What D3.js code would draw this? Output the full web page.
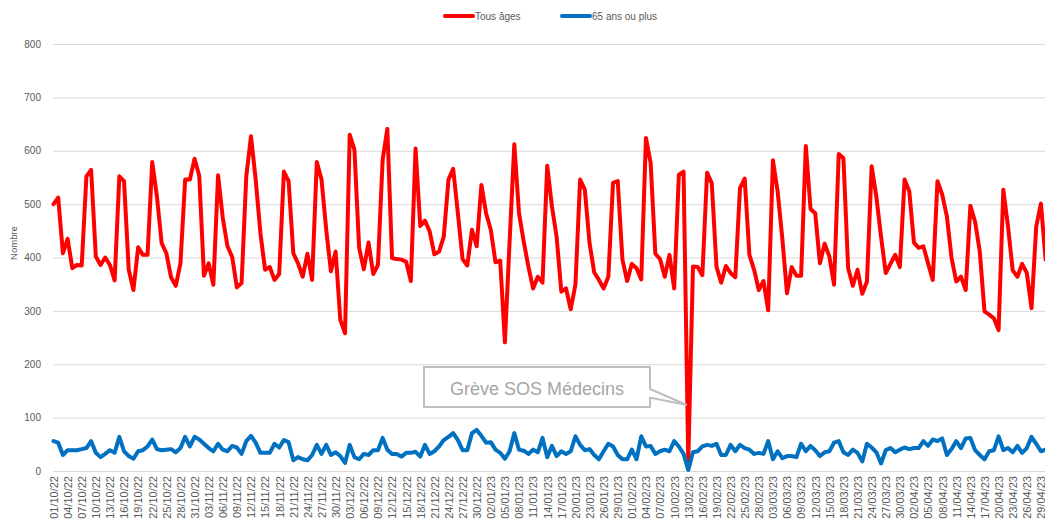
<!DOCTYPE html>
<html>
<head>
<meta charset="utf-8">
<script src="https://cdn.jsdelivr.net/npm/d3@7"></script>
<style>
  body { margin: 0; background: #fff; }
  svg { display: block; font-family: "Liberation Sans", Arial, sans-serif; }
</style>
</head>
<body>
<svg id="chart" width="1045" height="521"></svg>
<script>
// DATA (daily, from 01/10/22)
const startDate = new Date(2022, 9, 1);
const endDate = new Date(2023, 4, 3); // exclusive
const seriesNames = ["Tous âges", "65 ans ou plus"];
const yTicks = [0, 100, 200, 300, 400, 500, 600, 700, 800];

const tousAges = [
  500, 512, 408, 435, 380, 386, 385, 552, 564, 402, 386, 400, 386, 357, 552, 543, 377, 339, 419, 405,
  405, 579, 514, 427, 408, 363, 347, 389, 546, 546, 585, 553, 366, 389, 349, 554, 474, 421, 401, 344,
  352, 552, 627, 546, 446, 377, 382, 358, 369, 561, 543, 408, 389, 364, 407, 358, 579, 546, 452, 374,
  411, 283, 258, 630, 602, 418, 378, 428, 369, 386, 583, 641, 399, 397, 396, 392, 356, 604, 459, 469,
  449, 406, 411, 439, 546, 566, 483, 397, 385, 452, 421, 536, 483, 452, 391, 394, 241, 430, 612, 483,
  430, 383, 342, 364, 353, 572, 496, 439, 336, 342, 303, 349, 546, 527, 427, 372, 358, 342, 364, 540,
  543, 396, 356, 388, 380, 359, 624, 577, 407, 397, 364, 405, 342, 555, 561, 18, 383, 382, 367, 559,
  539, 383, 353, 384, 371, 363, 530, 548, 405, 377, 339, 356, 301, 582, 524, 436, 333, 382, 366, 366,
  609, 491, 483, 389, 426, 402, 349, 594, 586, 380, 347, 377, 332, 355, 571, 514, 439, 371, 388, 405,
  382, 546, 524, 428, 418, 421, 389, 358, 543, 518, 477, 399, 355, 364, 339, 497, 467, 411, 299, 293,
  286, 264, 527, 458, 376, 364, 388, 371, 305, 458, 501, 396
];

const plus65 = [
  56, 53, 30, 39, 39, 39, 41, 43, 56, 34, 26, 32, 39, 34, 64, 37, 28, 23, 37, 39,
  46, 59, 41, 39, 40, 41, 35, 43, 64, 46, 64, 59, 51, 43, 37, 51, 40, 37, 47, 44,
  32, 56, 66, 53, 34, 34, 34, 51, 44, 58, 54, 20, 26, 22, 20, 30, 49, 32, 49, 30,
  35, 28, 15, 49, 26, 22, 32, 30, 39, 39, 62, 40, 32, 32, 27, 34, 34, 36, 27, 49,
  32, 37, 46, 58, 64, 71, 58, 39, 39, 71, 77, 66, 53, 54, 40, 34, 23, 37, 71, 40,
  38, 32, 40, 35, 62, 26, 47, 28, 37, 32, 37, 65, 49, 39, 41, 30, 22, 37, 51, 46,
  30, 22, 22, 40, 22, 65, 46, 47, 32, 37, 40, 37, 56, 46, 32, 2, 35, 37, 46, 49,
  47, 51, 30, 30, 49, 37, 49, 43, 40, 32, 34, 32, 56, 22, 37, 24, 28, 28, 26, 51,
  37, 47, 39, 28, 35, 37, 53, 56, 35, 30, 40, 34, 18, 51, 44, 35, 14, 39, 43, 35,
  40, 44, 41, 43, 43, 56, 47, 59, 56, 61, 30, 41, 56, 43, 61, 62, 39, 30, 22, 37,
  39, 65, 39, 43, 35, 47, 34, 43, 64, 51, 37, 40
];

const annotation = { label: "Grève SOS Médecins", index: 135 };

// CATEGORIES
const dates = d3.timeDay.range(startDate, endDate);
const fmt = d3.timeFormat("%d/%m/%y");
const tickLabels = dates.filter((d, i) => i % 3 === 0).map(fmt);

const svg = d3.select("#chart");
const gray = "#595959";
const gridColor = "#d9d9d9";

const x = d3.scalePoint()
  .domain(dates.map(fmt))
  .range([53.5, 53.5 + (dates.length - 1) * 4.702]);

const y = d3.scaleLinear().domain([0, 800]).range([471, 44]);

// GRIDLINES
svg.append("g")
  .selectAll("line")
  .data(yTicks)
  .enter().append("line")
  .attr("x1", 53).attr("x2", 1045)
  .attr("y1", d => y(d) + 0.5).attr("y2", d => y(d) + 0.5)
  .attr("stroke", gridColor).attr("stroke-width", 1);

// Y AXIS
const yAxis = svg.append("g")
  .attr("transform", "translate(41,0)")
  .call(d3.axisLeft(y).tickValues(yTicks).tickSize(0).tickPadding(0));
yAxis.select(".domain").remove();
yAxis.selectAll("text").attr("fill", gray).style("font-size", "10px");

svg.append("text")
  .attr("transform", "translate(17,243) rotate(-90)")
  .attr("text-anchor", "middle")
  .attr("fill", gray)
  .style("font-size", "9.5px")
  .text("Nombre");

// X AXIS
const xAxis = svg.append("g")
  .attr("transform", "translate(0,471)")
  .call(d3.axisBottom(x).tickValues(tickLabels).tickSize(0).tickPadding(0));
xAxis.select(".domain").remove();
xAxis.selectAll("text")
  .attr("fill", gray)
  .style("font-size", "11px")
  .attr("text-anchor", "end")
  .attr("transform", "rotate(-90)")
  .attr("x", -5)
  .attr("y", 0)
  .attr("dy", "0.35em");

// LINES
const line = d3.line()
  .x((d, i) => x(fmt(dates[i])))
  .y(d => y(d));

svg.append("path")
  .datum(tousAges)
  .attr("fill", "none")
  .attr("stroke", "#ff0000")
  .attr("stroke-width", 4)
  .attr("stroke-linejoin", "round")
  .attr("stroke-linecap", "round")
  .attr("d", line);

svg.append("path")
  .datum(plus65)
  .attr("fill", "none")
  .attr("stroke", "#0070c0")
  .attr("stroke-width", 4)
  .attr("stroke-linejoin", "round")
  .attr("stroke-linecap", "round")
  .attr("d", line);

// LEGEND
const legend = [
  { name: seriesNames[0], color: "#ff0000", x: 445 },
  { name: seriesNames[1], color: "#0070c0", x: 562 }
];
const lg = svg.append("g").selectAll("g").data(legend).enter().append("g")
  .attr("transform", d => "translate(" + d.x + ",16)");
lg.append("line").attr("x1", 0).attr("x2", 28).attr("stroke", d => d.color)
  .attr("stroke-width", 4).attr("stroke-linecap", "round");
lg.append("text").attr("x", 30).attr("dy", "0.35em").attr("fill", gray)
  .style("font-size", "10px").text(d => d.name);

// CALLOUT
const tipX = x(fmt(dates[annotation.index])) - 1.5;
const tipY = 405;
const box = { x0: 424, x1: 650, y0: 367, y1: 407 };
svg.append("path")
  .attr("d", "M" + box.x0 + "," + box.y0 + "H" + box.x1 + "V" + 389
    + "L" + tipX + "," + tipY + "L" + (box.x1 + 2) + "," + 398
    + "L" + box.x1 + "," + 398 + "V" + box.y1 + "H" + box.x0 + "Z")
  .attr("fill", "#fff")
  .attr("stroke", "#bfbfbf")
  .attr("stroke-width", 2);
svg.append("text")
  .attr("x", (box.x0 + box.x1) / 2)
  .attr("y", 395)
  .attr("text-anchor", "middle")
  .attr("fill", "#a6a6a6")
  .style("font-size", "18px")
  .text(annotation.label);
</script>
</body>
</html>
